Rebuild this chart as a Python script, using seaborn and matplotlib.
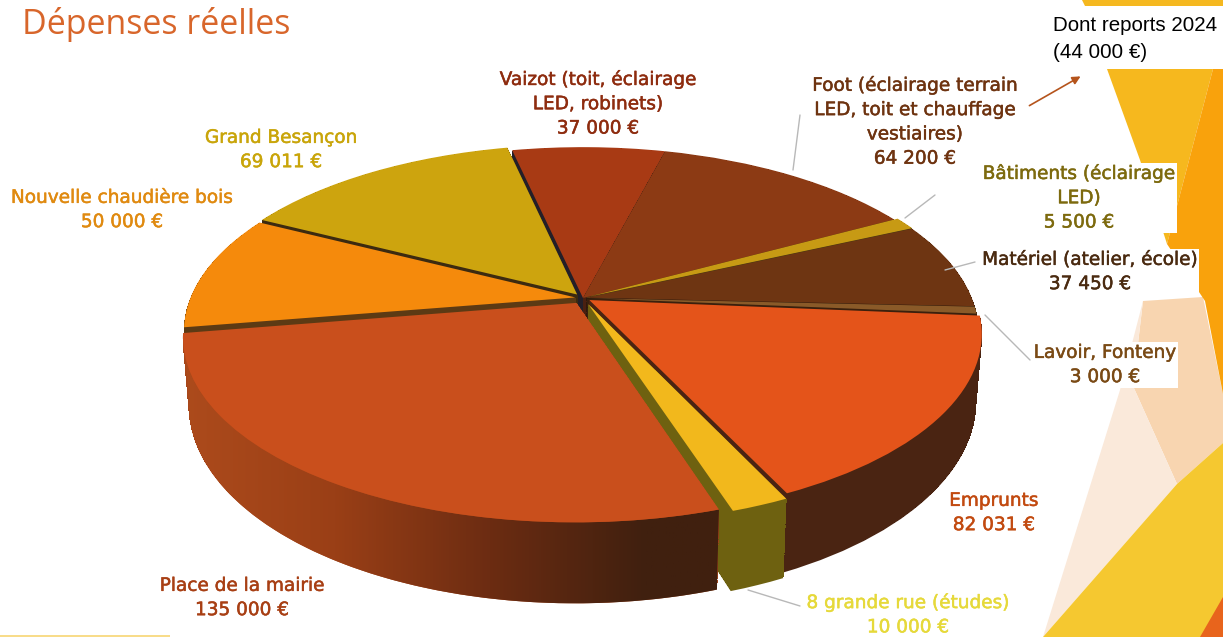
import numpy as np
import matplotlib
matplotlib.use("Agg")
import matplotlib.pyplot as plt
import matplotlib.patheffects as pe
import seaborn as sns
from matplotlib.colors import LinearSegmentedColormap
from matplotlib.patches import Polygon
from matplotlib.path import Path
from matplotlib.transforms import Transform

names = ["Vaizot (toit, éclairage\nLED, robinets)",
         "Foot (éclairage terrain\nLED, toit et chauffage\nvestiaires)",
         "Bâtiments (éclairage\nLED)",
         "Matériel (atelier, école)",
         "Lavoir, Fonteny",
         "Emprunts",
         "8 grande rue (études)",
         "Place de la mairie",
         "Nouvelle chaudière bois",
         "Grand Besançon"]
amounts = [37000, 64200, 5500, 37450, 3000, 82031, 10000, 135000, 50000, 69011]
amount_labels = ["37 000 €", "64 200 €", "5 500 €", "37 450 €", "3 000 €",
                 "82 031 €", "10 000 €", "135 000 €", "50 000 €", "69 011 €"]

top_colors = ["#a83a14", "#8c3a14", "#c79a14", "#6e3512", "#8a5a28",
              "#e4541a", "#f2b81c", "#c94f1c", "#f58a0c", "#cda40e"]
wall_colors = ["#231f28", "#4a2010", "#4a3a10", "#2e1a0c", "#3a200d",
               "#4a2412", "#6e6110", "#a8471a", "#5c3a14", "#3c2a10"]
text_colors = ["#8e2c0f", "#6e3310", "#7d6a0e", "#4a2a10", "#7a4a15",
               "#c24a10", "#e6d93a", "#a83f14", "#e08a10", "#c9a50a"]
label_pos = [(598, 104), (915, 122), (1079, 198), (1090, 272), (1105, 365),
             (994, 513), (908, 615), (242, 598), (122, 210), (281, 150)]
explode = [0.0, 0.0, 0.012, 0.01, 0.01, 0.02, 0.035, 0.032, 0.02, 0.025]

# projection of the flat pie to the picture
CX, CY = 583, 298
A, B, K = 385, 178, 0.18
DEPTH = 66
LEVELS = 60


def project(x, y, z=0.0):
    s = 1 / (1 + K * y)
    return np.column_stack((CX + A * x * s * (1 - 0.015 * z), CY - B * y * s + DEPTH * z * s))


class Tilt(Transform):
    input_dims = 2
    output_dims = 2

    def __init__(self, z):
        super().__init__()
        self.z = z

    def transform_non_affine(self, values):
        return project(values[:, 0], values[:, 1], self.z)


sns.set_theme(style="white")
plt.rcParams["font.family"] = ["DejaVu Sans"]
fig = plt.figure(figsize=(12.23, 6.37), dpi=100)
ax = fig.add_axes([0, 0, 1, 1])

# background shapes of the slide
shapes = [([(1082, 0), (1223, 0), (1223, 6), (1085, 6)], "#f5b81f"),
          ([(1143, 301), (1203, 297), (1223, 394), (1223, 443), (1177, 484), (1133, 386)], "#f8d5b0"),
          ([(1143, 301), (1133, 386), (1177, 484), (1043, 637), (1120, 390)], "#fae9da"),
          ([(1177, 484), (1223, 443), (1223, 637), (1043, 637)], "#f5c830"),
          ([(1107, 69), (1213, 69), (1167, 244), (1140, 160)], "#f6b81e"),
          ([(1213, 69), (1223, 69), (1223, 394), (1205, 301), (1167, 244)], "#f9a20c"),
          ([(1223, 597), (1223, 637), (1200, 637)], "#e8641c"),
          ([(0, 635), (170, 635), (170, 637), (0, 637)], "#f8dc8a")]
for pts, col in shapes:
    ax.add_patch(Polygon(pts, closed=True, fc=col, ec="none", zorder=1))

palette = sns.color_palette(top_colors)
walls = sns.color_palette(wall_colors)

START = 102.5
# back slices first, so that the front ones cover them
mid = START - 360 * (np.cumsum(amounts) - np.array(amounts) / 2) / sum(amounts)
rank = np.argsort(np.argsort(-np.sin(np.radians(mid))))
big = int(np.argmax(amounts))
small = names.index("8 grande rue (études)")
# the big slice has to hide the inner wall of the pulled out one
rank[big], rank[small] = rank[small], rank[big]

for level in range(LEVELS + 1):
    z = 1 - level / LEVELS
    cols = palette if level == LEVELS else walls
    wedges, _ = ax.pie(amounts, explode=explode, startangle=START, counterclock=False,
                       colors=cols, radius=1, wedgeprops={"linewidth": 0})
    for i, w in enumerate(wedges):
        w.set_transform(Tilt(z) + ax.transData)
        w.set_zorder(10 + rank[i] * 1000 + level)
        w.set_antialiased(level == LEVELS or level == 0)

# shading along the wall of the big slice
w = wedges[big]
th = np.radians(np.linspace(w.theta1, w.theta2, 80))
cx, cy = w.center
xs, ys = cx + np.cos(th), cy + np.sin(th)
wall_path = Path(np.vstack((project(xs, ys, 0), project(xs, ys, 1)[::-1])))
ramp = LinearSegmentedColormap.from_list("wall", ["#ad4b1c", "#9a3f16", "#6c2c12", "#40200f", "#40200f"])
im = ax.imshow(np.linspace(0, 1, 256)[None, :], cmap=ramp, aspect="auto",
               extent=(180, 800, 610, 320), zorder=10 + rank[big] * 1000 + LEVELS - 1)
im.set_clip_path(wall_path, transform=ax.transData)

ax.set_aspect("auto")
ax.set_xlim(0, 1223)
ax.set_ylim(637, 0)
ax.axis("off")

# thin lines from labels to slices
leaders = [((800, 115), (793, 170)), ((935, 195), (905, 218)), ((975, 262), (945, 270)),
           ((1030, 360), (985, 315)), ((748, 590), (800, 606))]
for p, q in leaders:
    ax.plot([p[0], q[0]], [p[1], q[1]], color="#b8b8b8", lw=1, zorder=20000)

for name, money, col, (x, y) in zip(names, amount_labels, text_colors, label_pos):
    t = ax.text(x, y, name + "\n" + money, color=col, fontsize=13.3, ha="center", va="center",
                linespacing=1.45, zorder=20002,
                bbox={"fc": "white", "ec": "none", "pad": 1})
    t.set_path_effects([pe.withStroke(linewidth=0.35, foreground=col)])

ax.text(22, 25, "Dépenses réelles", color="#d8662b", fontsize=24.5, family="Open Sans",
        ha="left", va="center", zorder=20002)

ax.add_patch(Polygon([(1045, 6), (1223, 6), (1223, 69), (1045, 69)], closed=True, fc="white", ec="none", zorder=20001))
ax.text(1053, 39, "Dont reports 2024\n(44 000 €)", color="black", fontsize=14.8,
        family="Liberation Sans", ha="left", va="center", linespacing=1.47, zorder=20002)
ax.annotate("", xy=(1083, 75), xytext=(1027, 107), zorder=20002,
            arrowprops={"arrowstyle": "-|>", "color": "#b5541c", "lw": 1.2})

fig.savefig("out.png", dpi=100)
